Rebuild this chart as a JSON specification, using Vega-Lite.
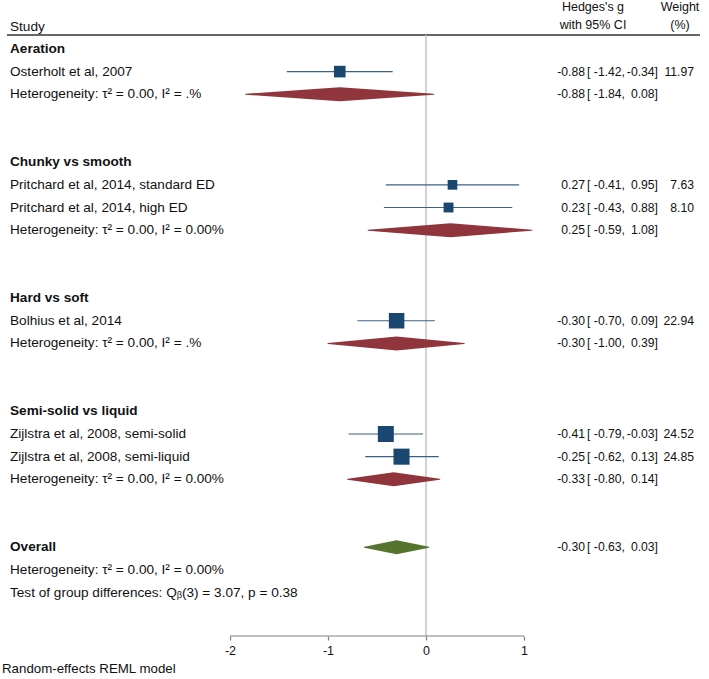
{
  "$schema": "https://vega.github.io/schema/vega-lite/v6.json",
  "width": 709,
  "height": 636,
  "autosize": {"type": "none"},
  "padding": {"left": 0, "top": 0, "right": 0, "bottom": 43},
  "background": "white",
  "config": {
    "view": {"stroke": null},
    "font": "Liberation Sans",
    "text": {"font": "Liberation Sans", "fontSize": 13.6, "color": "#111111", "baseline": "middle"}
  },
  "datasets": {
    "one": [{"k": 1}],
    "rows": [
      {"row": 1, "type": "group", "label": "Aeration"},
      {"row": 2, "type": "study", "label": "Osterholt et al, 2007", "es": -0.88, "lo": -1.42, "hi": -0.34, "w": 11.97, "es_t": "-0.88", "lo_t": "[ -1.42,", "hi_t": "-0.34]", "w_t": "11.97"},
      {"row": 3, "type": "het", "label": "Heterogeneity: τ² = 0.00, I² = .%", "es": -0.88, "lo": -1.84, "hi": 0.08, "es_t": "-0.88", "lo_t": "[ -1.84,", "hi_t": "0.08]"},
      {"row": 6, "type": "group", "label": "Chunky vs smooth"},
      {"row": 7, "type": "study", "label": "Pritchard et al, 2014, standard ED", "es": 0.27, "lo": -0.41, "hi": 0.95, "w": 7.63, "es_t": "0.27", "lo_t": "[ -0.41,", "hi_t": "0.95]", "w_t": "7.63"},
      {"row": 8, "type": "study", "label": "Pritchard et al, 2014, high ED", "es": 0.23, "lo": -0.43, "hi": 0.88, "w": 8.10, "es_t": "0.23", "lo_t": "[ -0.43,", "hi_t": "0.88]", "w_t": "8.10"},
      {"row": 9, "type": "het", "label": "Heterogeneity: τ² = 0.00, I² = 0.00%", "es": 0.25, "lo": -0.59, "hi": 1.08, "es_t": "0.25", "lo_t": "[ -0.59,", "hi_t": "1.08]"},
      {"row": 12, "type": "group", "label": "Hard vs soft"},
      {"row": 13, "type": "study", "label": "Bolhius et al, 2014", "es": -0.30, "lo": -0.70, "hi": 0.09, "w": 22.94, "es_t": "-0.30", "lo_t": "[ -0.70,", "hi_t": "0.09]", "w_t": "22.94"},
      {"row": 14, "type": "het", "label": "Heterogeneity: τ² = 0.00, I² = .%", "es": -0.30, "lo": -1.00, "hi": 0.39, "es_t": "-0.30", "lo_t": "[ -1.00,", "hi_t": "0.39]"},
      {"row": 17, "type": "group", "label": "Semi-solid vs liquid"},
      {"row": 18, "type": "study", "label": "Zijlstra et al, 2008, semi-solid", "es": -0.41, "lo": -0.79, "hi": -0.03, "w": 24.52, "es_t": "-0.41", "lo_t": "[ -0.79,", "hi_t": "-0.03]", "w_t": "24.52"},
      {"row": 19, "type": "study", "label": "Zijlstra et al, 2008, semi-liquid", "es": -0.25, "lo": -0.62, "hi": 0.13, "w": 24.85, "es_t": "-0.25", "lo_t": "[ -0.62,", "hi_t": "0.13]", "w_t": "24.85"},
      {"row": 20, "type": "het", "label": "Heterogeneity: τ² = 0.00, I² = 0.00%", "es": -0.33, "lo": -0.80, "hi": 0.14, "es_t": "-0.33", "lo_t": "[ -0.80,", "hi_t": "0.14]"},
      {"row": 23, "type": "overall", "label": "Overall", "es": -0.30, "lo": -0.63, "hi": 0.03, "es_t": "-0.30", "lo_t": "[ -0.63,", "hi_t": "0.03]"},
      {"row": 24, "type": "note", "label": "Heterogeneity: τ² = 0.00, I² = 0.00%"},
      {"row": 25, "type": "note", "label": "Test of group differences: Qᵦ(3) = 3.07, p = 0.38"}
    ]
  },
  "data": {"name": "rows"},
  "layer": [
    {
      "data": {"name": "one"},
      "mark": {"type": "rule", "color": "#333333", "strokeWidth": 1.6},
      "encoding": {
        "x": {"datum": -4.2755, "type": "quantitative", "scale": {"domain": [-4.34694, 2.88776], "nice": false, "zero": false}},
        "x2": {"datum": 2.796},
        "y": {"datum": 0.384, "type": "quantitative", "scale": {"domain": [-1.161, 26.918], "reverse": true, "nice": false, "zero": false}, "axis": null}
      }
    },
    {
      "data": {"name": "one"},
      "mark": {"type": "rule", "color": "#c4c4c4", "strokeWidth": 1.5},
      "encoding": {
        "x": {"datum": 0, "type": "quantitative", "scale": {"domain": [-4.34694, 2.88776], "nice": false, "zero": false},
          "axis": {"values": [-2, -1, 0, 1], "domain": false, "grid": false, "title": null, "tickColor": "#808080", "tickSize": 4, "tickWidth": 1.2,
            "labelFont": "Liberation Sans", "labelFontSize": 12.5, "labelColor": "#111111", "labelPadding": 4,
            "labelExpr": "datum.value < 0 ? '-' + abs(datum.value) : '' + datum.value"}},
        "y": {"datum": 0.384, "type": "quantitative", "scale": {"domain": [-1.161, 26.918], "reverse": true, "nice": false, "zero": false}, "axis": null},
        "y2": {"datum": 26.918}
      }
    },
    {
      "data": {"name": "one"},
      "mark": {"type": "rule", "color": "#808080", "strokeWidth": 1.2},
      "encoding": {
        "x": {"datum": -2, "type": "quantitative", "scale": {"domain": [-4.34694, 2.88776], "nice": false, "zero": false}},
        "x2": {"datum": 1},
        "y": {"datum": 26.918, "type": "quantitative", "scale": {"domain": [-1.161, 26.918], "reverse": true, "nice": false, "zero": false}, "axis": null}
      }
    },
    {
      "transform": [{"filter": "datum.type === 'study'"}],
      "mark": {"type": "rule", "color": "#3a6186", "strokeWidth": 1.2},
      "encoding": {
        "x": {"field": "lo", "type": "quantitative", "scale": {"domain": [-4.34694, 2.88776], "nice": false, "zero": false}},
        "x2": {"field": "hi"},
        "y": {"field": "row", "type": "quantitative", "scale": {"domain": [-1.161, 26.918], "reverse": true, "nice": false, "zero": false}, "axis": null}
      }
    },
    {
      "transform": [{"filter": "datum.type === 'study'"}],
      "mark": {"type": "point", "shape": "square", "filled": true, "color": "#1a476f", "opacity": 1},
      "encoding": {
        "x": {"field": "es", "type": "quantitative", "scale": {"domain": [-4.34694, 2.88776], "nice": false, "zero": false}},
        "y": {"field": "row", "type": "quantitative", "scale": {"domain": [-1.161, 26.918], "reverse": true, "nice": false, "zero": false}, "axis": null},
        "size": {"field": "w", "type": "quantitative", "scale": {"domain": [0, 25], "range": [20, 260]}, "legend": null}
      }
    },
    {
      "transform": [
        {"filter": "datum.type === 'het' || datum.type === 'overall'"},
        {"fold": ["lo", "es", "hi"], "as": ["k", "v"]}
      ],
      "mark": {"type": "trail", "opacity": 1},
      "encoding": {
        "x": {"field": "v", "type": "quantitative", "scale": {"domain": [-4.34694, 2.88776], "nice": false, "zero": false}},
        "y": {"field": "row", "type": "quantitative", "scale": {"domain": [-1.161, 26.918], "reverse": true, "nice": false, "zero": false}, "axis": null},
        "detail": {"field": "row", "type": "nominal"},
        "color": {"field": "type", "type": "nominal", "scale": {"domain": ["het", "overall"], "range": ["#90353b", "#55752f"]}, "legend": null},
        "size": {"condition": {"test": "datum.k === 'es'", "value": 14}, "value": 0}
      }
    },
    {
      "transform": [{"filter": "datum.type !== 'group' && datum.type !== 'overall'"}],
      "mark": {"type": "text", "align": "left"},
      "encoding": {
        "x": {"datum": -4.2449, "type": "quantitative", "scale": {"domain": [-4.34694, 2.88776], "nice": false, "zero": false}},
        "y": {"field": "row", "type": "quantitative", "scale": {"domain": [-1.161, 26.918], "reverse": true, "nice": false, "zero": false}, "axis": null},
        "text": {"field": "label"}
      }
    },
    {
      "transform": [{"filter": "datum.type === 'group' || datum.type === 'overall'"}],
      "mark": {"type": "text", "align": "left", "fontWeight": "bold"},
      "encoding": {
        "x": {"datum": -4.2449, "type": "quantitative", "scale": {"domain": [-4.34694, 2.88776], "nice": false, "zero": false}},
        "y": {"field": "row", "type": "quantitative", "scale": {"domain": [-1.161, 26.918], "reverse": true, "nice": false, "zero": false}, "axis": null},
        "text": {"field": "label"}
      }
    },
    {
      "transform": [{"filter": "isValid(datum.es_t)"}],
      "mark": {"type": "text", "align": "right", "fontSize": 12.2},
      "encoding": {
        "x": {"datum": 1.6224, "type": "quantitative", "scale": {"domain": [-4.34694, 2.88776], "nice": false, "zero": false}},
        "y": {"field": "row", "type": "quantitative", "scale": {"domain": [-1.161, 26.918], "reverse": true, "nice": false, "zero": false}, "axis": null},
        "text": {"field": "es_t"}
      }
    },
    {
      "transform": [{"filter": "isValid(datum.lo_t)"}],
      "mark": {"type": "text", "align": "right", "fontSize": 12.2},
      "encoding": {
        "x": {"datum": 2.0306, "type": "quantitative", "scale": {"domain": [-4.34694, 2.88776], "nice": false, "zero": false}},
        "y": {"field": "row", "type": "quantitative", "scale": {"domain": [-1.161, 26.918], "reverse": true, "nice": false, "zero": false}, "axis": null},
        "text": {"field": "lo_t"}
      }
    },
    {
      "transform": [{"filter": "isValid(datum.hi_t)"}],
      "mark": {"type": "text", "align": "right", "fontSize": 12.2},
      "encoding": {
        "x": {"datum": 2.3673, "type": "quantitative", "scale": {"domain": [-4.34694, 2.88776], "nice": false, "zero": false}},
        "y": {"field": "row", "type": "quantitative", "scale": {"domain": [-1.161, 26.918], "reverse": true, "nice": false, "zero": false}, "axis": null},
        "text": {"field": "hi_t"}
      }
    },
    {
      "transform": [{"filter": "isValid(datum.w_t)"}],
      "mark": {"type": "text", "align": "right", "fontSize": 12.2},
      "encoding": {
        "x": {"datum": 2.7347, "type": "quantitative", "scale": {"domain": [-4.34694, 2.88776], "nice": false, "zero": false}},
        "y": {"field": "row", "type": "quantitative", "scale": {"domain": [-1.161, 26.918], "reverse": true, "nice": false, "zero": false}, "axis": null},
        "text": {"field": "w_t"}
      }
    },
    {
      "data": {"values": [{"t": "Study", "row": 0.02}]},
      "mark": {"type": "text", "align": "left"},
      "encoding": {
        "x": {"datum": -4.2449, "type": "quantitative", "scale": {"domain": [-4.34694, 2.88776], "nice": false, "zero": false}},
        "y": {"field": "row", "type": "quantitative", "scale": {"domain": [-1.161, 26.918], "reverse": true, "nice": false, "zero": false}, "axis": null},
        "text": {"field": "t"}
      }
    },
    {
      "data": {"values": [{"t": "Hedges's g", "row": -0.84}, {"t": "with 95% CI", "row": -0.06}]},
      "mark": {"type": "text", "align": "center", "fontSize": 12.5},
      "encoding": {
        "x": {"datum": 1.7041, "type": "quantitative", "scale": {"domain": [-4.34694, 2.88776], "nice": false, "zero": false}},
        "y": {"field": "row", "type": "quantitative", "scale": {"domain": [-1.161, 26.918], "reverse": true, "nice": false, "zero": false}, "axis": null},
        "text": {"field": "t"}
      }
    },
    {
      "data": {"values": [{"t": "Weight", "row": -0.84}, {"t": "(%)", "row": -0.06}]},
      "mark": {"type": "text", "align": "center", "fontSize": 12.5},
      "encoding": {
        "x": {"datum": 2.5918, "type": "quantitative", "scale": {"domain": [-4.34694, 2.88776], "nice": false, "zero": false}},
        "y": {"field": "row", "type": "quantitative", "scale": {"domain": [-1.161, 26.918], "reverse": true, "nice": false, "zero": false}, "axis": null},
        "text": {"field": "t"}
      }
    },
    {
      "data": {"values": [{"t": "Random-effects REML model", "row": 28.375}]},
      "mark": {"type": "text", "align": "left", "fontSize": 13.3},
      "encoding": {
        "x": {"datum": -4.3265, "type": "quantitative", "scale": {"domain": [-4.34694, 2.88776], "nice": false, "zero": false}},
        "y": {"field": "row", "type": "quantitative", "scale": {"domain": [-1.161, 26.918], "reverse": true, "nice": false, "zero": false}, "axis": null},
        "text": {"field": "t"}
      }
    }
  ]
}
